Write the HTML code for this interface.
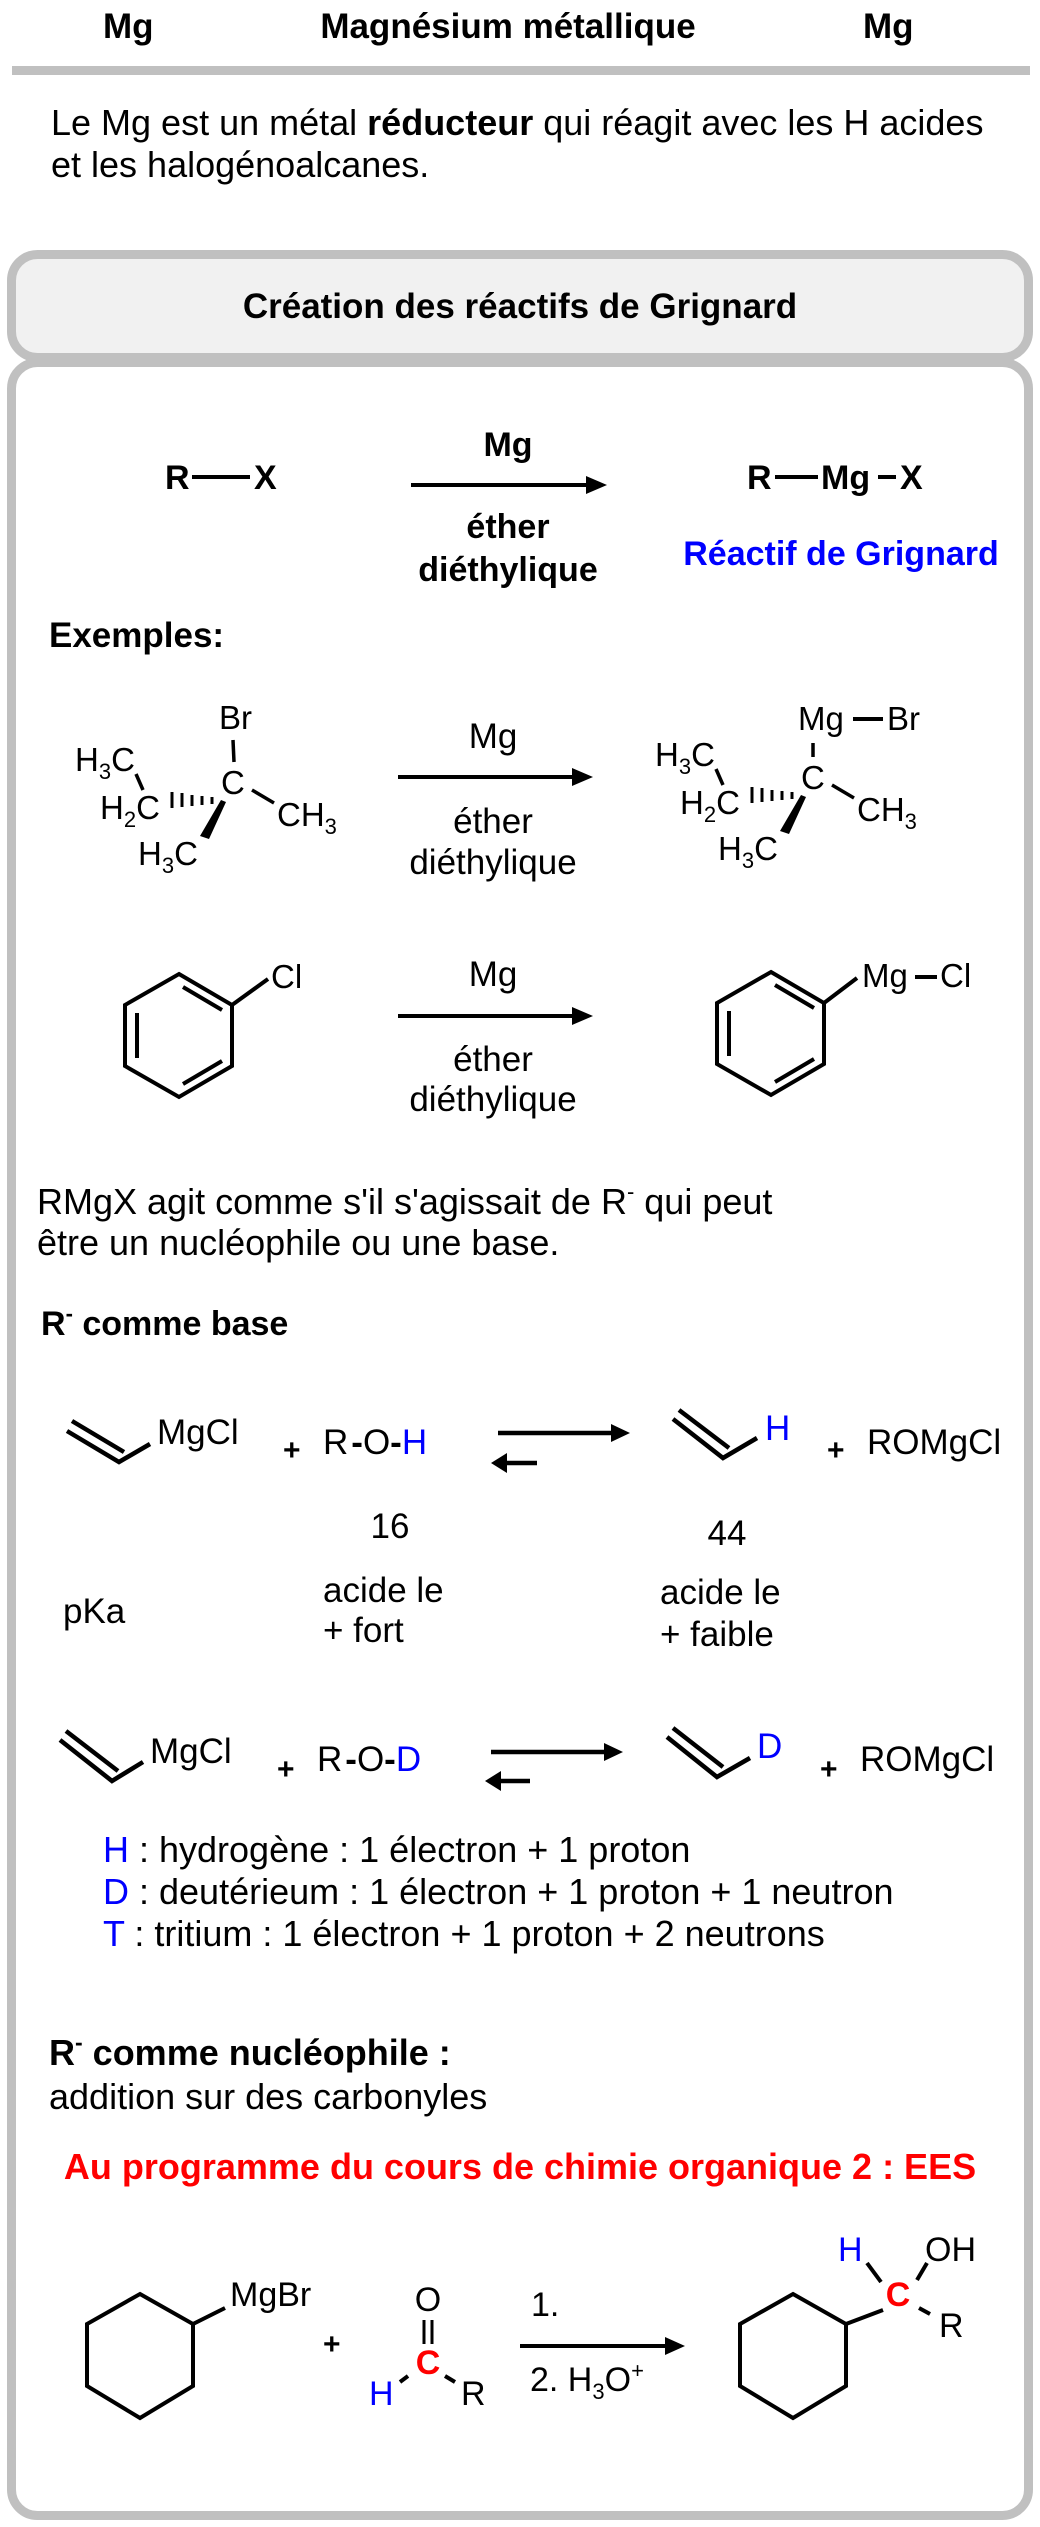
<!DOCTYPE html>
<html><head><meta charset="utf-8"><style>
html,body{margin:0;padding:0;background:#fff;}
svg{display:block;}
text{font-family:"Liberation Sans",Arial,sans-serif;}
</style></head><body>
<svg width="1040" height="2527" viewBox="0 0 1040 2527" xmlns="http://www.w3.org/2000/svg">
<rect width="1040" height="2527" fill="#fff"/>
<!-- header -->
<g font-weight="bold" font-size="35" fill="#000">
<text x="103" y="38">Mg</text>
<text x="508" y="38" text-anchor="middle">Magnésium métallique</text>
<text x="863" y="38">Mg</text>
</g>
<rect x="12" y="66" width="1018" height="9" fill="#c0c0c0"/>
<g font-size="36" fill="#000">
<text x="51" y="135">Le Mg est un métal <tspan font-weight="bold">réducteur</tspan> qui réagit avec les H acides</text>
<text x="51" y="177">et les halogénoalcanes.</text>
</g>
<!-- boxes -->
<rect x="11.5" y="254.5" width="1017" height="103" rx="26" fill="#f1f1f1" stroke="#c0c0c0" stroke-width="9"/>
<rect x="11.5" y="362.5" width="1017" height="2153" rx="26" fill="#fff" stroke="#c0c0c0" stroke-width="9"/>
<text x="520" y="318" text-anchor="middle" font-weight="bold" font-size="35">Création des réactifs de Grignard</text>

<!-- general reaction -->
<g font-weight="bold" font-size="34">
<text x="165" y="489">R</text>
<line x1="192" y1="477" x2="250" y2="477" stroke="#000" stroke-width="4"/>
<text x="254" y="489">X</text>
<text x="508" y="456" text-anchor="middle">Mg</text>
<text x="508" y="538" text-anchor="middle">éther</text>
<text x="508" y="581" text-anchor="middle">diéthylique</text>
<text x="747" y="489">R</text>
<line x1="775" y1="477" x2="818" y2="477" stroke="#000" stroke-width="4"/>
<text x="821" y="489">Mg</text>
<line x1="878" y1="477" x2="896" y2="477" stroke="#000" stroke-width="4"/>
<text x="900" y="489">X</text>
<text x="841" y="565" text-anchor="middle" fill="#0000ff">Réactif de Grignard</text>
</g>
<line x1="411" y1="485" x2="590" y2="485" stroke="#000" stroke-width="4"/>
<path d="M586,476 L607,485 L586,494 Z" fill="#000"/>

<text x="49" y="647" font-weight="bold" font-size="35">Exemples:</text>

<!-- example 1 reactant -->
<g font-size="33" fill="#000">
<text x="219" y="729">Br</text>
<text x="221" y="794">C</text>
<text x="75" y="771">H<tspan font-size="22" dy="8">3</tspan><tspan dy="-8">C</tspan></text>
<text x="100" y="819">H<tspan font-size="22" dy="8">2</tspan><tspan dy="-8">C</tspan></text>
<text x="277" y="826">CH<tspan font-size="22" dy="8">3</tspan></text>
<text x="138" y="865">H<tspan font-size="22" dy="8">3</tspan><tspan dy="-8">C</tspan></text>
</g>
<g stroke="#000" stroke-width="3.5">
<line x1="233" y1="740" x2="234" y2="762"/>
<line x1="136" y1="774" x2="143" y2="790"/>
<line x1="252" y1="790" x2="274" y2="803"/>
<line x1="172" y1="792" x2="172" y2="808" stroke-width="3"/>
<line x1="182" y1="793" x2="182" y2="807" stroke-width="3"/>
<line x1="192" y1="795" x2="192" y2="806" stroke-width="3"/>
<line x1="202" y1="796" x2="202" y2="805" stroke-width="3"/>
<line x1="212" y1="797" x2="212" y2="804" stroke-width="3"/>
</g>
<path d="M221,800 L226,802 L209,839 L200,836 Z" fill="#000"/>
<!-- arrow 1 -->
<g font-size="35">
<text x="493" y="748" text-anchor="middle">Mg</text>
<text x="493" y="833" text-anchor="middle">éther</text>
<text x="493" y="874" text-anchor="middle">diéthylique</text>
</g>
<line x1="398" y1="777" x2="576" y2="777" stroke="#000" stroke-width="4"/>
<path d="M572,768 L593,777 L572,786 Z" fill="#000"/>
<!-- example 1 product -->
<g font-size="33" fill="#000">
<text x="798" y="730">Mg</text>
<text x="887" y="730">Br</text>
<text x="801" y="789">C</text>
<text x="655" y="766">H<tspan font-size="22" dy="8">3</tspan><tspan dy="-8">C</tspan></text>
<text x="680" y="814">H<tspan font-size="22" dy="8">2</tspan><tspan dy="-8">C</tspan></text>
<text x="857" y="821">CH<tspan font-size="22" dy="8">3</tspan></text>
<text x="718" y="860">H<tspan font-size="22" dy="8">3</tspan><tspan dy="-8">C</tspan></text>
</g>
<g stroke="#000" stroke-width="3.5">
<line x1="853" y1="719" x2="883" y2="719" stroke-width="4"/>
<line x1="813" y1="743" x2="813" y2="757"/>
<line x1="716" y1="769" x2="723" y2="785"/>
<line x1="832" y1="785" x2="854" y2="798"/>
<line x1="752" y1="787" x2="752" y2="803" stroke-width="3"/>
<line x1="762" y1="788" x2="762" y2="802" stroke-width="3"/>
<line x1="772" y1="790" x2="772" y2="801" stroke-width="3"/>
<line x1="782" y1="791" x2="782" y2="800" stroke-width="3"/>
<line x1="792" y1="792" x2="792" y2="799" stroke-width="3"/>
</g>
<path d="M801,795 L806,797 L789,834 L780,831 Z" fill="#000"/>

<!-- example 2 -->
<g stroke="#000" stroke-width="4" fill="none" stroke-linejoin="miter">
<polygon points="179,974 232,1005 232,1066 179,1097 125,1066 125,1005"/>
<line x1="183" y1="987" x2="222" y2="1010"/>
<line x1="137" y1="1013" x2="137" y2="1058"/>
<line x1="183" y1="1084" x2="222" y2="1061"/>
<line x1="232" y1="1005" x2="268" y2="979"/>
<polygon points="771,972 824,1003 824,1064 771,1095 717,1064 717,1003"/>
<line x1="775" y1="985" x2="814" y2="1008"/>
<line x1="729" y1="1011" x2="729" y2="1056"/>
<line x1="775" y1="1082" x2="814" y2="1059"/>
<line x1="824" y1="1003" x2="857" y2="978"/>
<line x1="915" y1="977" x2="937" y2="977"/>
</g>
<g font-size="33">
<text x="271" y="988">Cl</text>
<text x="862" y="987">Mg</text>
<text x="940" y="987">Cl</text>
</g>
<g font-size="35">
<text x="493" y="986" text-anchor="middle">Mg</text>
<text x="493" y="1071" text-anchor="middle">éther</text>
<text x="493" y="1111" text-anchor="middle">diéthylique</text>
</g>
<line x1="398" y1="1016" x2="576" y2="1016" stroke="#000" stroke-width="4"/>
<path d="M572,1007 L593,1016 L572,1025 Z" fill="#000"/>

<g font-size="36">
<text x="37" y="1214">RMgX agit comme s'il s'agissait de R<tspan font-size="22" dy="-15">-</tspan><tspan dy="15"> qui peut</tspan></text>
<text x="37" y="1255">être un nucléophile ou une base.</text>
</g>

<!-- R- comme base -->
<text x="41" y="1335" font-weight="bold" font-size="34">R<tspan font-size="22" dy="-14">-</tspan><tspan dy="14"> comme base</tspan></text>
<g stroke="#000" stroke-width="4.5" fill="none">
<polyline points="67,1431 119,1462 150,1444"/>
<line x1="72" y1="1421" x2="124" y2="1452"/>
<polyline points="673,1419 723,1458 757,1438"/>
<line x1="679" y1="1410" x2="729" y2="1448"/>
<polyline points="60,1740 112,1781 143,1762"/>
<line x1="66" y1="1731" x2="118" y2="1771"/>
<polyline points="667,1737 717,1777 750,1758"/>
<line x1="673" y1="1728" x2="723" y2="1767"/>
</g>
<g font-size="35">
<text x="157" y="1444">MgCl</text>
<text x="283" y="1460" font-size="30" font-weight="bold">+</text>
<text x="323" y="1454">R<tspan dx="3" font-weight="bold">-</tspan>O<tspan font-weight="bold">-</tspan><tspan fill="#0000ff">H</tspan></text>
<text x="765" y="1440" fill="#0000ff">H</text>
<text x="827" y="1460" font-size="30" font-weight="bold">+</text>
<text x="867" y="1454">ROMgCl</text>
<text x="390" y="1538" text-anchor="middle">16</text>
<text x="727" y="1545" text-anchor="middle">44</text>
<text x="63" y="1623">pKa</text>
<text x="323" y="1602">acide le</text>
<text x="323" y="1642">+ fort</text>
<text x="660" y="1604">acide le</text>
<text x="660" y="1646">+ faible</text>
<text x="150" y="1763">MgCl</text>
<text x="277" y="1779" font-size="30" font-weight="bold">+</text>
<text x="317" y="1771">R<tspan dx="3" font-weight="bold">-</tspan>O<tspan font-weight="bold">-</tspan><tspan fill="#0000ff">D</tspan></text>
<text x="757" y="1758" fill="#0000ff">D</text>
<text x="820" y="1779" font-size="30" font-weight="bold">+</text>
<text x="860" y="1771">ROMgCl</text>
</g>
<g stroke="#000" stroke-width="4.5">
<line x1="498" y1="1433" x2="615" y2="1433"/>
<line x1="503" y1="1463" x2="537" y2="1463"/>
<line x1="491" y1="1752" x2="608" y2="1752"/>
<line x1="497" y1="1781" x2="530" y2="1781"/>
</g>
<path d="M611,1424 L630,1433 L611,1442 Z M507,1453 L491,1463 L507,1473 Z M604,1743 L623,1752 L604,1761 Z M501,1771 L485,1781 L501,1791 Z" fill="#000"/>

<g font-size="36">
<text x="103" y="1862"><tspan fill="#0000ff">H</tspan> : hydrogène : 1 électron + 1 proton</text>
<text x="103" y="1904"><tspan fill="#0000ff">D</tspan> : deutérieum : 1 électron + 1 proton + 1 neutron</text>
<text x="103" y="1946"><tspan fill="#0000ff">T</tspan> : tritium : 1 électron + 1 proton + 2 neutrons</text>
</g>

<text x="49" y="2065" font-weight="bold" font-size="36">R<tspan font-size="23" dy="-15">-</tspan><tspan dy="15"> comme nucléophile :</tspan></text>
<text x="49" y="2109" font-size="36">addition sur des carbonyles</text>
<text x="520" y="2179" text-anchor="middle" font-weight="bold" font-size="36" fill="#ff0000">Au programme du cours de chimie organique 2 : EES</text>

<!-- final reaction -->
<g stroke="#000" stroke-width="4" fill="none">
<polygon points="140,2294 193,2324 193,2386 140,2418 87,2386 87,2324"/>
<line x1="193" y1="2324" x2="225" y2="2308"/>
<polygon points="793,2294 846,2324 846,2386 793,2418 740,2386 740,2324"/>
<line x1="846" y1="2324" x2="883" y2="2310"/>
<line x1="424" y1="2320" x2="424" y2="2344" stroke-width="3"/>
<line x1="432" y1="2320" x2="432" y2="2344" stroke-width="3"/>
<line x1="400" y1="2382" x2="408" y2="2376"/>
<line x1="445" y1="2376" x2="455" y2="2382"/>
<line x1="867" y1="2263" x2="881" y2="2282"/>
<line x1="917" y1="2280" x2="927" y2="2263"/>
<line x1="919" y1="2308" x2="930" y2="2314"/>
<line x1="520" y1="2346" x2="668" y2="2346"/>
</g>
<path d="M665,2337 L685,2346 L665,2355 Z" fill="#000"/>
<g font-size="34">
<text x="230" y="2306">MgBr</text>
<text x="323" y="2354" font-size="30" font-weight="bold">+</text>
<text x="428" y="2311" text-anchor="middle">O</text>
<text x="428" y="2374" text-anchor="middle" fill="#ff0000" font-weight="bold">C</text>
<text x="369" y="2405" fill="#0000ff">H</text>
<text x="461" y="2405">R</text>
<text x="531" y="2316">1.</text>
<text x="530" y="2391">2. H<tspan font-size="22" dy="8">3</tspan><tspan dy="-8">O</tspan><tspan font-size="22" dy="-13">+</tspan></text>
<text x="898" y="2306" text-anchor="middle" fill="#ff0000" font-weight="bold">C</text>
<text x="838" y="2261" fill="#0000ff">H</text>
<text x="925" y="2261">OH</text>
<text x="939" y="2337">R</text>
</g>
</svg>
</body></html>
